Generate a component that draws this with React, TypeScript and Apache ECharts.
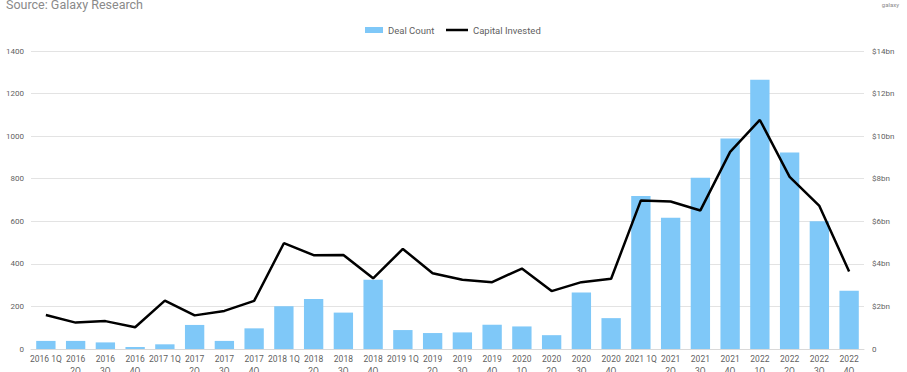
import React, { useEffect, useRef } from "react";
import * as echarts from "echarts";

const quarters = [
  "2016 1Q", "2016\n2Q", "2016\n3Q", "2016\n4Q",
  "2017 1Q", "2017\n2Q", "2017\n3Q", "2017\n4Q",
  "2018 1Q", "2018\n2Q", "2018\n3Q", "2018\n4Q",
  "2019 1Q", "2019\n2Q", "2019\n3Q", "2019\n4Q",
  "2020\n1Q", "2020\n2Q", "2020\n3Q", "2020\n4Q",
  "2021 1Q", "2021\n2Q", "2021\n3Q", "2021\n4Q",
  "2022\n1Q", "2022\n2Q", "2022\n3Q", "2022\n4Q",
];

const dealCount = [
  38, 38, 31, 9,
  22, 113, 38, 97,
  201, 235, 171, 325,
  89, 75, 78, 114,
  106, 65, 266, 145,
  719, 617, 805, 989,
  1265, 923, 600, 274,
];

const capitalInvestedBn = [
  1.6, 1.24, 1.31, 1.02,
  2.27, 1.58, 1.79, 2.26,
  4.97, 4.41, 4.42, 3.32,
  4.7, 3.56, 3.25, 3.14,
  3.78, 2.72, 3.14, 3.3,
  6.98, 6.93, 6.51, 9.26,
  10.76, 8.09, 6.72, 3.64,
];

const leftTicks = { min: 0, max: 1400, interval: 200 };
const rightTicks = { min: 0, max: 14, interval: 2 };

const FONT = "Roboto, 'Noto Sans', sans-serif";
const LABEL_COLOR = "#5f5f5f";

export default function App() {
  const ref = useRef<HTMLDivElement>(null);
  useEffect(() => {
    if (!ref.current) return;
    const chart = echarts.init(ref.current, undefined, { renderer: "svg" });
    chart.setOption({
      animation: false,
      backgroundColor: "#ffffff",
      textStyle: { fontFamily: FONT },
      graphic: [
        {
          type: "text",
          left: 6,
          top: -2,
          style: {
            text: "Source: Galaxy Research",
            fontSize: 12.5,
            fontFamily: FONT,
            fill: "#8a8a8a",
          },
        },
        {
          type: "text",
          right: 8,
          top: 1,
          style: {
            text: "galaxy",
            fontSize: 6,
            fontFamily: FONT,
            fill: "#8a8a8a",
          },
        },
      ],
      legend: [
        {
          top: 20,
          left: 360,
          itemWidth: 18,
          itemHeight: 6,
          textStyle: { fontSize: 9.5, color: LABEL_COLOR, fontFamily: FONT },
          data: [{ name: "Deal Count", icon: "rect" }],
        },
        {
          top: 20,
          left: 441,
          itemWidth: 22,
          itemHeight: 2.5,
          textStyle: { fontSize: 9.5, color: LABEL_COLOR, fontFamily: FONT },
          data: [{ name: "Capital Invested", icon: "rect" }],
        },
      ],
      grid: {
        left: 31,
        right: 43,
        top: 51,
        bottom: 23,
        containLabel: false,
        outerBoundsMode: "none",
      },
      xAxis: {
        type: "category",
        data: quarters,
        axisTick: { show: false },
        axisLine: { lineStyle: { color: "#d9d9d9" } },
        axisLabel: {
          interval: 0,
          fontSize: 8.5,
          lineHeight: 12,
          color: LABEL_COLOR,
          margin: 4,
          fontFamily: FONT,
        },
      },
      yAxis: [
        {
          type: "value",
          ...leftTicks,
          axisLine: { show: false },
          axisTick: { show: false },
          splitLine: { lineStyle: { color: "#e3e3e3" } },
          axisLabel: {
            fontSize: 8,
            color: LABEL_COLOR,
            margin: 7,
            fontFamily: FONT,
            formatter: (v: number) => String(v),
          },
        },
        {
          type: "value",
          ...rightTicks,
          position: "right",
          axisLine: { show: false },
          axisTick: { show: false },
          splitLine: { show: false },
          axisLabel: {
            fontSize: 8,
            color: LABEL_COLOR,
            margin: 8,
            fontFamily: FONT,
            formatter: (v: number) => (v === 0 ? "0" : "$" + v + "bn"),
          },
        },
      ],
      series: [
        {
          name: "Deal Count",
          type: "bar",
          data: dealCount,
          barCategoryGap: "35%",
          itemStyle: { color: "#7fc8f8" },
        },
        {
          name: "Capital Invested",
          type: "line",
          yAxisIndex: 1,
          data: capitalInvestedBn,
          symbol: "none",
          lineStyle: { color: "#000000", width: 2.5 },
          itemStyle: { color: "#000000" },
        },
      ],
    });
    return () => chart.dispose();
  }, []);
  return (
    <div
      ref={ref}
      style={{ position: "fixed", left: 0, top: 0, width: 907, height: 372 }}
    />
  );
}
